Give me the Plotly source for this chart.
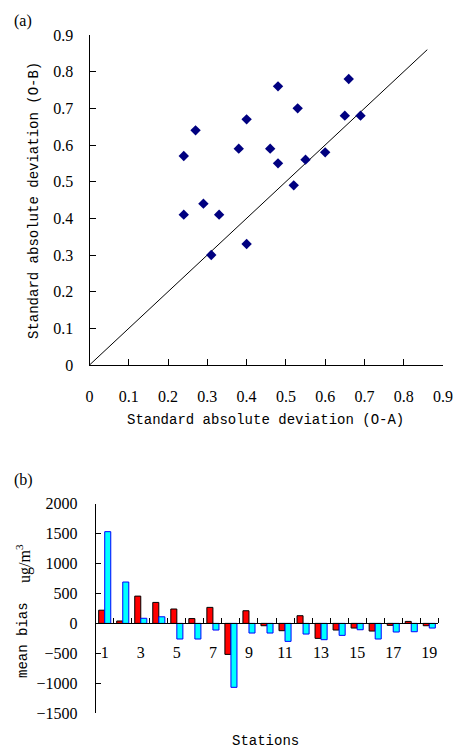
import plotly.graph_objects as go

# ---- Data ----
# (a) scatter: standard absolute deviation O-A (x) vs O-B (y)
sad_oa = [0.24, 0.27, 0.38, 0.40, 0.46, 0.48, 0.48, 0.53, 0.52, 0.55,
          0.60, 0.65, 0.66, 0.69, 0.24, 0.29, 0.33, 0.31, 0.40]
sad_ob = [0.57, 0.64, 0.59, 0.67, 0.59, 0.76, 0.55, 0.70, 0.49, 0.56,
          0.58, 0.68, 0.78, 0.68, 0.41, 0.44, 0.41, 0.30, 0.33]
diag = [0, 0.86]  # 1:1 reference line extent

# (b) mean bias per station
stations = list(range(1, 20))
bias_red = [220, 40, 455, 350, 240, 80, 267, -517, 211, -39,
            -122, 128, -250, -111, -78, -128, -33, 33, -39]
bias_cyan = [1530, 690, 85, 110, -261, -261, -111, -1067, -161, -161,
             -300, -178, -272, -200, -106, -261, -144, -139, -78]
scatter_ticks = [0, 0.1, 0.2, 0.3, 0.4, 0.5, 0.6, 0.7, 0.8, 0.9]
bar_label_ticks = [1, 3, 5, 7, 9, 11, 13, 15, 17, 19]

W, H = 456, 749
TICK_FONT = dict(family="Liberation Serif", size=16, color="black")
TITLE_FONT = dict(family="Liberation Mono", size=14, color="black")

def px_x(p):
    return p / W

def px_y(p):
    return (H - p) / H

fig = go.Figure()

fig.add_trace(go.Scatter(x=diag, y=diag, mode="lines",
                         line=dict(color="black", width=1),
                         xaxis="x", yaxis="y", hoverinfo="skip"))
fig.add_trace(go.Scatter(x=sad_oa, y=sad_ob, mode="markers",
                         marker=dict(symbol="diamond", size=8, color="#000080"),
                         xaxis="x", yaxis="y"))

fig.add_trace(go.Bar(x=stations, y=bias_red, xaxis="x2", yaxis="y2",
                     marker=dict(color="#FF0000", line=dict(color="black", width=1))))
fig.add_trace(go.Bar(x=stations, y=bias_cyan, xaxis="x2", yaxis="y2",
                     marker=dict(color="#00FFFF", line=dict(color="#0000FF", width=1))))

# bar zero position in paper coords
y2_dom = [px_y(713.3), px_y(503.5)]
zero_frac = 1500 / 3500
zero_pos = y2_dom[0] + zero_frac * (y2_dom[1] - y2_dom[0])

fig.update_layout(
    width=W, height=H,
    margin=dict(l=0, r=0, t=0, b=0),
    paper_bgcolor="white", plot_bgcolor="white",
    showlegend=False,
    barmode="group", bargap=0.33, bargroupgap=0,
    font=TICK_FONT,
    xaxis=dict(domain=[px_x(89.5), px_x(443)], range=[0, 0.9], anchor="y",
               tickvals=scatter_ticks, ticks="inside", ticklen=6,
               tickcolor="black", showline=True, linecolor="black", linewidth=1,
               showgrid=False, zeroline=False, ticklabelstandoff=17,
               ticklabeloverflow="allow",
               tickfont=TICK_FONT, automargin=False),
    yaxis=dict(domain=[px_y(365), px_y(35)], range=[0, 0.9], anchor="x",
               tickvals=scatter_ticks, ticks="inside", ticklen=6,
               tickcolor="black", showline=True, linecolor="black", linewidth=1,
               showgrid=False, zeroline=False, ticklabelstandoff=12,
               tickfont=TICK_FONT, automargin=False),
    xaxis2=dict(domain=[px_x(95.7), px_x(438.3)], range=[0.5, 19.5],
                anchor="free", position=zero_pos,
                tickvals=bar_label_ticks, ticks="", showline=True,
                linecolor="black", linewidth=1, showgrid=False, zeroline=False,
                ticklabelstandoff=14, tickfont=TICK_FONT, automargin=False,
                minor=dict(tickvals=[s - 0.5 for s in stations] + [19.5],
                           ticks="inside", ticklen=5, tickcolor="black",
                           showgrid=False)),
    yaxis2=dict(domain=y2_dom, range=[-1500, 2000], anchor="x2",
                dtick=500, ticks="inside", ticklen=5, tickcolor="black",
                showline=True, linecolor="black", linewidth=1,
                showgrid=False, zeroline=False, ticklabelstandoff=14,
                tickfont=TICK_FONT, automargin=False),
)

ann = [
    dict(text="(a)", x=px_x(12), y=px_y(21), xanchor="left", yanchor="middle",
         font=TICK_FONT),
    dict(text="(b)", x=px_x(12), y=px_y(480), xanchor="left", yanchor="middle",
         font=TICK_FONT),
    dict(text="Standard absolute deviation (O-B)", x=px_x(34), y=px_y(201),
         textangle=-90, xanchor="center", yanchor="middle", font=TITLE_FONT),
    dict(text="Standard absolute deviation (O-A)", x=px_x(265), y=px_y(420),
         xanchor="center", yanchor="middle", font=TITLE_FONT),
    dict(text="ug/m<sup>3</sup>", x=px_x(23), y=px_y(564),
         textangle=-90, xanchor="center", yanchor="middle", font=TICK_FONT),
    dict(text="mean bias", x=px_x(23), y=px_y(640),
         textangle=-90, xanchor="center", yanchor="middle", font=TITLE_FONT),
    dict(text="Stations", x=px_x(265), y=px_y(741),
         xanchor="center", yanchor="middle", font=TITLE_FONT),
]
for a in ann:
    a.update(xref="paper", yref="paper", showarrow=False)
fig.update_layout(annotations=ann)

fig.write_html(
    "out.html",
    config={"displayModeBar": False},
    post_script="document.body.style.margin='0';document.body.style.overflow='hidden';",
)
